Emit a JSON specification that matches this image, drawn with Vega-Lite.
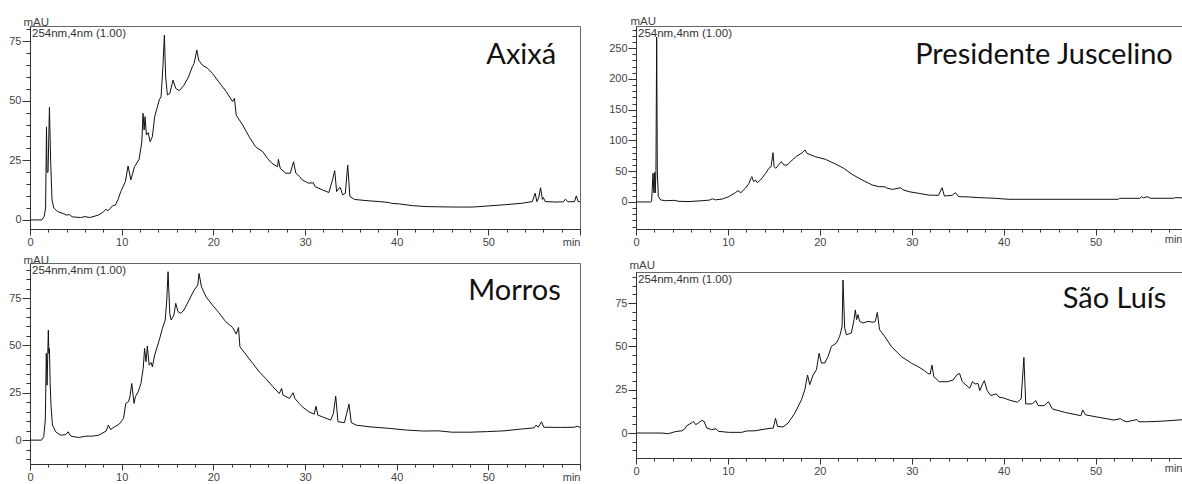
{
  "$schema": "https://vega.github.io/schema/vega-lite/v6.json",
  "background": "white",
  "padding": {"left": 8, "top": 14, "right": 0, "bottom": 0},
  "config": {
    "view": {"stroke": "#666", "strokeWidth": 1},
    "axis": {"labelFont": "Liberation Sans", "labelFontSize": 11, "labelColor": "#444", "domainColor": "#333", "tickColor": "#333", "grid": false, "titleFont": "Liberation Sans", "titleFontSize": 11.5, "titleFontWeight": "normal", "titleColor": "#444", "labelOverlap": false, "labelFlush": false}
  },
  "datasets": {
    "axixa": [
      {"t":0,"v":0},{"t":1.3,"v":0},{"t":1.55,"v":1.5},{"t":1.7,"v":5},{"t":1.8,"v":39},{"t":1.86,"v":20},{"t":1.97,"v":20},{"t":2.12,"v":47.2},{"t":2.25,"v":25},{"t":2.4,"v":8.4},{"t":2.6,"v":5},{"t":3.0,"v":3.5},{"t":3.6,"v":2.7},{"t":4.0,"v":2.0},{"t":4.3,"v":2.3},{"t":4.6,"v":1.3},{"t":5.5,"v":1.0},{"t":6.0,"v":1.4},{"t":6.5,"v":1.0},{"t":7.0,"v":1.5},{"t":7.5,"v":2.1},{"t":8.0,"v":3.4},{"t":8.3,"v":4.5},{"t":8.5,"v":3.8},{"t":9.0,"v":5.9},{"t":9.3,"v":6.2},{"t":9.6,"v":8.5},{"t":9.9,"v":11.9},{"t":10.4,"v":16},{"t":10.7,"v":22.6},{"t":11.0,"v":16.8},{"t":11.4,"v":22.3},{"t":11.9,"v":25.4},{"t":12.2,"v":32.8},{"t":12.33,"v":44.7},{"t":12.45,"v":37.7},{"t":12.55,"v":43.3},{"t":12.7,"v":35.6},{"t":12.9,"v":36.6},{"t":13.1,"v":32.8},{"t":13.35,"v":34.9},{"t":13.6,"v":43.3},{"t":14.1,"v":50.3},{"t":14.3,"v":51.7},{"t":14.5,"v":64.2},{"t":14.66,"v":77.5},{"t":14.8,"v":60},{"t":14.99,"v":52.4},{"t":15.25,"v":53},{"t":15.6,"v":58.6},{"t":15.9,"v":55.1},{"t":16.3,"v":54.2},{"t":16.8,"v":56.5},{"t":17.3,"v":60},{"t":17.7,"v":64.2},{"t":17.9,"v":65.6},{"t":18.2,"v":71.2},{"t":18.4,"v":67},{"t":18.8,"v":64.9},{"t":19.4,"v":63.5},{"t":19.9,"v":61.4},{"t":20.6,"v":57.9},{"t":21.4,"v":53.8},{"t":22.1,"v":49.6},{"t":22.3,"v":51},{"t":22.5,"v":43.9},{"t":23.2,"v":39.8},{"t":23.9,"v":34.9},{"t":24.6,"v":30.7},{"t":25.4,"v":28.6},{"t":25.9,"v":25.8},{"t":26.4,"v":23.7},{"t":27.0,"v":22.3},{"t":27.1,"v":25.4},{"t":27.3,"v":21.6},{"t":27.9,"v":19.6},{"t":28.4,"v":19.6},{"t":28.75,"v":24.4},{"t":29.0,"v":19.6},{"t":29.4,"v":18.2},{"t":29.7,"v":16.8},{"t":30.4,"v":15.4},{"t":30.9,"v":15.6},{"t":31.1,"v":14},{"t":31.9,"v":12.6},{"t":32.6,"v":11.5},{"t":33.0,"v":16.8},{"t":33.24,"v":20.7},{"t":33.45,"v":11.9},{"t":33.7,"v":13.3},{"t":33.85,"v":13.6},{"t":34.1,"v":10.5},{"t":34.4,"v":11.2},{"t":34.66,"v":23},{"t":34.9,"v":9.8},{"t":35.4,"v":8.6},{"t":35.9,"v":8.4},{"t":37.0,"v":8},{"t":38.1,"v":7.7},{"t":39.2,"v":7.3},{"t":39.4,"v":7.0},{"t":40.3,"v":6.7},{"t":41.7,"v":6.0},{"t":43.2,"v":5.6},{"t":44.7,"v":5.5},{"t":46.5,"v":5.4},{"t":48.3,"v":5.4},{"t":50.1,"v":5.9},{"t":51.9,"v":6.4},{"t":53.7,"v":7.0},{"t":54.8,"v":7.7},{"t":55.1,"v":11.2},{"t":55.3,"v":7.7},{"t":55.5,"v":9.4},{"t":55.7,"v":13.5},{"t":55.9,"v":8.6},{"t":56.0,"v":9.4},{"t":56.2,"v":7.7},{"t":57.4,"v":7.5},{"t":58.2,"v":7.6},{"t":58.4,"v":8.7},{"t":58.7,"v":7.6},{"t":59.4,"v":7.7},{"t":59.6,"v":10.1},{"t":59.8,"v":7.7},{"t":60,"v":7.7}
    ],
    "morros": [
      {"t":0,"v":0},{"t":1.25,"v":0},{"t":1.5,"v":1.8},{"t":1.67,"v":10.6},{"t":1.78,"v":45.8},{"t":1.86,"v":29},{"t":2.0,"v":58.1},{"t":2.06,"v":45.8},{"t":2.12,"v":48.4},{"t":2.2,"v":29.9},{"t":2.3,"v":17.6},{"t":2.45,"v":7.9},{"t":2.8,"v":4.4},{"t":3.35,"v":2.6},{"t":3.9,"v":2.9},{"t":4.15,"v":4.4},{"t":4.45,"v":2.1},{"t":5.3,"v":1.4},{"t":6.1,"v":2.1},{"t":6.8,"v":2.1},{"t":7.5,"v":2.6},{"t":8.3,"v":4.8},{"t":8.55,"v":7.9},{"t":8.8,"v":5.6},{"t":9.2,"v":7},{"t":9.7,"v":8.3},{"t":10.2,"v":11.4},{"t":10.45,"v":19.4},{"t":10.75,"v":20.3},{"t":10.9,"v":22.9},{"t":11.1,"v":29.9},{"t":11.35,"v":19.4},{"t":11.5,"v":22.9},{"t":11.8,"v":25.5},{"t":12.1,"v":29.9},{"t":12.35,"v":37.9},{"t":12.5,"v":48.4},{"t":12.65,"v":41.4},{"t":12.8,"v":49.7},{"t":13.0,"v":39.6},{"t":13.2,"v":41},{"t":13.35,"v":38.7},{"t":13.6,"v":44.9},{"t":14.1,"v":52.8},{"t":14.45,"v":59},{"t":14.75,"v":63.4},{"t":14.92,"v":73.9},{"t":15.06,"v":88.9},{"t":15.25,"v":66.9},{"t":15.4,"v":63.4},{"t":15.7,"v":66},{"t":15.9,"v":72.2},{"t":16.15,"v":67.8},{"t":16.45,"v":66.9},{"t":16.8,"v":68.7},{"t":17.35,"v":73.9},{"t":17.9,"v":79.2},{"t":18.3,"v":81.8},{"t":18.44,"v":88},{"t":18.7,"v":81},{"t":19.2,"v":75.7},{"t":19.9,"v":71.3},{"t":20.6,"v":67.3},{"t":21.35,"v":62.5},{"t":22.1,"v":59.5},{"t":22.5,"v":56},{"t":22.75,"v":59.5},{"t":22.9,"v":49.3},{"t":23.6,"v":44.9},{"t":24.3,"v":40.5},{"t":25.0,"v":36.1},{"t":25.7,"v":32.6},{"t":26.5,"v":28.2},{"t":27.2,"v":24.6},{"t":27.45,"v":27.3},{"t":27.6,"v":23.8},{"t":28.3,"v":22},{"t":28.7,"v":25},{"t":28.9,"v":22},{"t":29.35,"v":19.4},{"t":29.7,"v":17.6},{"t":30.4,"v":15},{"t":31.0,"v":13.7},{"t":31.2,"v":17.9},{"t":31.4,"v":13.2},{"t":31.9,"v":12.3},{"t":32.8,"v":10.6},{"t":33.1,"v":14.1},{"t":33.35,"v":23.2},{"t":33.6,"v":9.7},{"t":34.3,"v":9.2},{"t":34.55,"v":14.1},{"t":34.8,"v":19},{"t":35.05,"v":9.2},{"t":35.6,"v":7.9},{"t":37.1,"v":7},{"t":39.2,"v":6.2},{"t":41.1,"v":5.3},{"t":42.9,"v":4.8},{"t":44.6,"v":4.9},{"t":46.0,"v":4.2},{"t":48.0,"v":4.2},{"t":49.9,"v":4.5},{"t":51.7,"v":4.9},{"t":53.5,"v":5.8},{"t":55.0,"v":6.5},{"t":55.2,"v":7.9},{"t":55.45,"v":6.8},{"t":55.8,"v":9.7},{"t":56.05,"v":6.8},{"t":57.9,"v":6.7},{"t":59.4,"v":6.8},{"t":59.7,"v":7.4},{"t":60,"v":6.7}
    ],
    "pj": [
      {"t":0,"v":0},{"t":1.6,"v":0},{"t":1.7,"v":1},{"t":1.85,"v":46.6},{"t":1.95,"v":14.6},{"t":2.03,"v":48},{"t":2.1,"v":15},{"t":2.17,"v":51},{"t":2.25,"v":268},{"t":2.32,"v":49.6},{"t":2.43,"v":8.7},{"t":2.68,"v":3.2},{"t":3.22,"v":2},{"t":4.13,"v":2.6},{"t":4.67,"v":1},{"t":5.76,"v":0.6},{"t":7.21,"v":2},{"t":8.0,"v":3},{"t":8.3,"v":5.1},{"t":8.5,"v":4.2},{"t":8.66,"v":3.4},{"t":9.38,"v":4.6},{"t":10.1,"v":8.7},{"t":10.8,"v":15},{"t":11.1,"v":18.3},{"t":11.4,"v":15},{"t":11.9,"v":22.2},{"t":12.3,"v":30.3},{"t":12.5,"v":38.4},{"t":12.6,"v":41.1},{"t":12.8,"v":33},{"t":13.0,"v":35.7},{"t":13.2,"v":31.4},{"t":13.55,"v":35.7},{"t":14.1,"v":46.5},{"t":14.46,"v":54.6},{"t":14.7,"v":57.3},{"t":14.9,"v":80},{"t":15.03,"v":57.3},{"t":15.2,"v":54.6},{"t":15.5,"v":60},{"t":15.8,"v":65.4},{"t":16.1,"v":60},{"t":16.45,"v":60},{"t":17.0,"v":68.2},{"t":17.5,"v":74.7},{"t":18.1,"v":80},{"t":18.4,"v":84.4},{"t":18.6,"v":79},{"t":19.5,"v":73.6},{"t":20.6,"v":69.3},{"t":21.7,"v":61.7},{"t":22.6,"v":54.6},{"t":23.5,"v":44.9},{"t":24.6,"v":35.7},{"t":25.7,"v":27.6},{"t":26.4,"v":24.9},{"t":27.1,"v":24.5},{"t":27.3,"v":22.4},{"t":27.9,"v":20.4},{"t":28.8,"v":23.1},{"t":29.0,"v":20},{"t":29.7,"v":16.6},{"t":30.8,"v":13.9},{"t":31.8,"v":11.2},{"t":32.9,"v":10.7},{"t":33.3,"v":23.1},{"t":33.55,"v":9.6},{"t":34.4,"v":10.7},{"t":34.75,"v":15},{"t":35.1,"v":8.6},{"t":36.2,"v":8.1},{"t":37.3,"v":7.0},{"t":39.1,"v":5.9},{"t":40.5,"v":4.3},{"t":45.7,"v":4.3},{"t":52.5,"v":4.3},{"t":52.6,"v":5.9},{"t":54.8,"v":5.9},{"t":55.0,"v":8.6},{"t":55.2,"v":6.5},{"t":55.6,"v":8.6},{"t":56.0,"v":5.9},{"t":58.5,"v":6.0},{"t":58.7,"v":7.0},{"t":59.5,"v":6.5}
    ],
    "sl": [
      {"t":0,"v":0},{"t":2.82,"v":0},{"t":3.5,"v":-0.4},{"t":4.27,"v":0.8},{"t":4.99,"v":1.3},{"t":5.28,"v":2.2},{"t":5.53,"v":4.2},{"t":6.07,"v":5.9},{"t":6.25,"v":6.7},{"t":6.5,"v":4.8},{"t":6.8,"v":5.9},{"t":7.16,"v":7.3},{"t":7.41,"v":6.7},{"t":7.7,"v":2.9},{"t":8.24,"v":1.9},{"t":8.68,"v":2.5},{"t":8.97,"v":1},{"t":10.05,"v":0.4},{"t":11.5,"v":0.4},{"t":12.04,"v":1.2},{"t":12.94,"v":1.3},{"t":14.03,"v":2.3},{"t":14.93,"v":2.9},{"t":15.18,"v":8.5},{"t":15.4,"v":3.8},{"t":16.0,"v":3.5},{"t":16.56,"v":5.8},{"t":17.28,"v":11.5},{"t":18.0,"v":19.2},{"t":18.37,"v":25},{"t":18.66,"v":33.5},{"t":18.9,"v":27.9},{"t":19.27,"v":33.5},{"t":19.63,"v":36.5},{"t":19.92,"v":46},{"t":20.17,"v":40.4},{"t":20.54,"v":40.4},{"t":20.9,"v":44.2},{"t":21.26,"v":50},{"t":21.8,"v":51.9},{"t":22.16,"v":55.8},{"t":22.42,"v":61.5},{"t":22.52,"v":88.3},{"t":22.7,"v":60.6},{"t":22.89,"v":56.7},{"t":23.43,"v":57.7},{"t":23.72,"v":65.4},{"t":23.86,"v":71},{"t":24.0,"v":65.4},{"t":24.15,"v":68.3},{"t":24.33,"v":64.4},{"t":24.69,"v":63.5},{"t":25.23,"v":64.4},{"t":25.78,"v":63.9},{"t":26.03,"v":64.4},{"t":26.25,"v":69.6},{"t":26.5,"v":59.6},{"t":27.04,"v":55.8},{"t":27.8,"v":49.8},{"t":28.9,"v":44},{"t":30.0,"v":40.2},{"t":30.7,"v":38.3},{"t":31.4,"v":35.9},{"t":31.75,"v":34.4},{"t":32.0,"v":34},{"t":32.2,"v":39.2},{"t":32.4,"v":32.5},{"t":33.0,"v":29.6},{"t":33.9,"v":29.6},{"t":34.5,"v":30.6},{"t":34.9,"v":33.5},{"t":35.2,"v":34.4},{"t":35.5,"v":29.6},{"t":36.3,"v":25.8},{"t":36.6,"v":29.6},{"t":36.9,"v":28.3},{"t":37.2,"v":28.6},{"t":37.4,"v":24.5},{"t":37.7,"v":28.3},{"t":37.9,"v":30.2},{"t":38.2,"v":24.5},{"t":38.6,"v":21.6},{"t":39.2,"v":22.6},{"t":39.5,"v":20.7},{"t":40.0,"v":20.2},{"t":40.8,"v":18.7},{"t":41.5,"v":17.8},{"t":41.9,"v":19.7},{"t":42.2,"v":43.6},{"t":42.4,"v":16.8},{"t":43.1,"v":16.8},{"t":43.5,"v":18.7},{"t":43.75,"v":15.8},{"t":44.4,"v":15.8},{"t":44.87,"v":18.1},{"t":45.3,"v":13.9},{"t":46.6,"v":12},{"t":48.4,"v":10.0},{"t":48.6,"v":13.3},{"t":48.9,"v":10.5},{"t":50.2,"v":9.2},{"t":52.0,"v":7.5},{"t":52.7,"v":8.3},{"t":53.0,"v":7.2},{"t":53.4,"v":6.5},{"t":54.5,"v":7.8},{"t":54.7,"v":6.5},{"t":55.6,"v":6.5},{"t":57.4,"v":6.9},{"t":59.5,"v":7.7}
    ]
  },
  "spacing": 27,
  "hconcat": [
    {
      "spacing": 34,
      "bounds": "flush",
      "vconcat": [
        {
          "width": 550, "height": 203,
          "layer": [
            {
              "data": {"name": "axixa"},
              "mark": {"type": "line", "color": "#111", "strokeWidth": 1, "clip": true},
              "encoding": {
                "x": {"field": "t", "type": "quantitative", "scale": {"domain": [0, 60], "nice": false, "zero": false},
                  "axis": {"title": null, "format": "d", "tickCount": 200, "labelOverlap": false, "labelFlush": false, "labelBound": false, "values": [0,2,4,6,8,10,12,14,16,18,20,22,24,26,28,30,32,34,36,38,40,42,44,46,48,50,52,54,56,58,60], "labelExpr": "datum.value % 10 == 0 ? (datum.value >= 60 ? 'min' : datum.label) : ''", "tickSize": {"condition": {"test": "datum.value % 10 == 0", "value": 6}, "value": 3}, "labelAlign": {"condition": {"test": "datum.value >= 59", "value": "right"}, "value": "center"}, "labelPadding": 1}},
                "y": {"field": "v", "type": "quantitative", "scale": {"domain": [-3.8, 81.3], "nice": false, "zero": false},
                  "axis": {"title": "mAU", "format": "d", "tickCount": 200, "labelOverlap": false, "labelFlush": false, "labelBound": false, "titleAngle": 0, "titleAlign": "left", "titleBaseline": "alphabetic", "titleX": -7, "titleY": -1, "values": [0,5,10,15,20,25,30,35,40,45,50,55,60,65,70,75,80], "labelExpr": "datum.value % 25 == 0 ? datum.label : ''", "tickSize": {"condition": {"test": "datum.value % 25 == 0", "value": 8}, "value": 4}, "labelPadding": 1}}
              }
            },
            {
              "data": {"values": [{"label": "254nm,4nm (1.00)"}]},
              "mark": {"type": "text", "align": "left", "baseline": "alphabetic", "font": "Liberation Sans", "fontSize": 11.5, "color": "#333"},
              "encoding": {"x": {"datum": 0.22, "type": "quantitative"}, "y": {"datum": 76.7, "type": "quantitative"}, "text": {"field": "label"}}
            },
            {
              "data": {"values": [{"label": "Axixá"}]},
              "mark": {"type": "text", "align": "right", "baseline": "alphabetic", "font": "Lato", "fontSize": 29, "color": "#111"},
              "encoding": {"x": {"datum": 57.4, "type": "quantitative"}, "y": {"datum": 65.4, "type": "quantitative"}, "text": {"field": "label"}}
            }
          ]
        },
        {
          "width": 550, "height": 201,
          "layer": [
            {
              "data": {"name": "morros"},
              "mark": {"type": "line", "color": "#111", "strokeWidth": 1, "clip": true},
              "encoding": {
                "x": {"field": "t", "type": "quantitative", "scale": {"domain": [0, 60], "nice": false, "zero": false},
                  "axis": {"title": null, "format": "d", "tickCount": 200, "labelOverlap": false, "labelFlush": false, "labelBound": false, "values": [0,2,4,6,8,10,12,14,16,18,20,22,24,26,28,30,32,34,36,38,40,42,44,46,48,50,52,54,56,58,60], "labelExpr": "datum.value % 10 == 0 ? (datum.value >= 60 ? 'min' : datum.label) : ''", "tickSize": {"condition": {"test": "datum.value % 10 == 0", "value": 6}, "value": 3}, "labelAlign": {"condition": {"test": "datum.value >= 59", "value": "right"}, "value": "center"}, "labelPadding": 1}},
                "y": {"field": "v", "type": "quantitative", "scale": {"domain": [-12.6, 93.5], "nice": false, "zero": false},
                  "axis": {"title": "mAU", "format": "d", "tickCount": 200, "labelOverlap": false, "labelFlush": false, "labelBound": false, "titleAngle": 0, "titleAlign": "left", "titleBaseline": "alphabetic", "titleX": -7, "titleY": 0, "values": [-10,-5,0,5,10,15,20,25,30,35,40,45,50,55,60,65,70,75,80,85,90], "labelExpr": "datum.value % 25 == 0 ? datum.label : ''", "tickSize": {"condition": {"test": "datum.value % 25 == 0", "value": 8}, "value": 4}, "labelPadding": 1}}
              }
            },
            {
              "data": {"values": [{"label": "254nm,4nm (1.00)"}]},
              "mark": {"type": "text", "align": "left", "baseline": "alphabetic", "font": "Liberation Sans", "fontSize": 11.5, "color": "#333"},
              "encoding": {"x": {"datum": 0.22, "type": "quantitative"}, "y": {"datum": 87.7, "type": "quantitative"}, "text": {"field": "label"}}
            },
            {
              "data": {"values": [{"label": "Morros"}]},
              "mark": {"type": "text", "align": "right", "baseline": "alphabetic", "font": "Lato", "fontSize": 29, "color": "#111"},
              "encoding": {"x": {"datum": 57.9, "type": "quantitative"}, "y": {"datum": 74.0, "type": "quantitative"}, "text": {"field": "label"}}
            }
          ]
        }
      ]
    },
    {
      "spacing": 43,
      "bounds": "flush",
      "vconcat": [
        {
          "width": 546, "height": 203,
          "layer": [
            {
              "data": {"name": "pj"},
              "mark": {"type": "line", "color": "#111", "strokeWidth": 1, "clip": true},
              "encoding": {
                "x": {"field": "t", "type": "quantitative", "scale": {"domain": [0, 59.4], "nice": false, "zero": false},
                  "axis": {"title": null, "format": "d", "tickCount": 200, "labelOverlap": false, "labelFlush": false, "labelBound": false, "values": [0,2,4,6,8,10,12,14,16,18,20,22,24,26,28,30,32,34,36,38,40,42,44,46,48,50,52,54,56,58,59.4], "labelExpr": "datum.value > 59 ? 'min' : (datum.value % 10 == 0 ? datum.label : '')", "tickSize": {"condition": {"test": "datum.value % 10 == 0", "value": 6}, "value": 3}, "labelAlign": {"condition": {"test": "datum.value > 59", "value": "right"}, "value": "center"}, "labelPadding": 1}},
                "y": {"field": "v", "type": "quantitative", "scale": {"domain": [-44, 286], "nice": false, "zero": false},
                  "axis": {"title": "mAU", "format": "d", "tickCount": 200, "labelOverlap": false, "labelFlush": false, "labelBound": false, "titleAngle": 0, "titleAlign": "left", "titleBaseline": "alphabetic", "titleX": -6, "titleY": -2, "values": [-40,-30,-20,-10,0,10,20,30,40,50,60,70,80,90,100,110,120,130,140,150,160,170,180,190,200,210,220,230,240,250,260,270,280], "labelExpr": "datum.value % 50 == 0 ? datum.label : ''", "tickSize": {"condition": {"test": "datum.value % 50 == 0", "value": 8}, "value": 4}, "labelPadding": 1}}
              }
            },
            {
              "data": {"values": [{"label": "254nm,4nm (1.00)"}]},
              "mark": {"type": "text", "align": "left", "baseline": "alphabetic", "font": "Liberation Sans", "fontSize": 11.5, "color": "#333"},
              "encoding": {"x": {"datum": 0.22, "type": "quantitative"}, "y": {"datum": 268, "type": "quantitative"}, "text": {"field": "label"}}
            },
            {
              "data": {"values": [{"label": "Presidente Juscelino"}]},
              "mark": {"type": "text", "align": "right", "baseline": "alphabetic", "font": "Lato", "fontSize": 29, "color": "#111"},
              "encoding": {"x": {"datum": 58.4, "type": "quantitative"}, "y": {"datum": 224, "type": "quantitative"}, "text": {"field": "label"}}
            }
          ]
        },
        {
          "width": 546, "height": 186,
          "layer": [
            {
              "data": {"name": "sl"},
              "mark": {"type": "line", "color": "#111", "strokeWidth": 1, "clip": true},
              "encoding": {
                "x": {"field": "t", "type": "quantitative", "scale": {"domain": [0, 59.4], "nice": false, "zero": false},
                  "axis": {"title": null, "format": "d", "tickCount": 200, "labelOverlap": false, "labelFlush": false, "labelBound": false, "values": [0,2,4,6,8,10,12,14,16,18,20,22,24,26,28,30,32,34,36,38,40,42,44,46,48,50,52,54,56,58,59.4], "labelExpr": "datum.value > 59 ? 'min' : (datum.value % 10 == 0 ? datum.label : '')", "tickSize": {"condition": {"test": "datum.value % 10 == 0", "value": 6}, "value": 3}, "labelAlign": {"condition": {"test": "datum.value > 59", "value": "right"}, "value": "center"}, "labelPadding": 1}},
                "y": {"field": "v", "type": "quantitative", "scale": {"domain": [-14.4, 92.9], "nice": false, "zero": false},
                  "axis": {"title": "mAU", "format": "d", "tickCount": 200, "labelOverlap": false, "labelFlush": false, "labelBound": false, "titleAngle": 0, "titleAlign": "left", "titleBaseline": "alphabetic", "titleX": -7, "titleY": -4, "values": [-10,-5,0,5,10,15,20,25,30,35,40,45,50,55,60,65,70,75,80,85,90], "labelExpr": "datum.value % 25 == 0 ? datum.label : ''", "tickSize": {"condition": {"test": "datum.value % 25 == 0", "value": 8}, "value": 4}, "labelPadding": 1}}
              }
            },
            {
              "data": {"values": [{"label": "254nm,4nm (1.00)"}]},
              "mark": {"type": "text", "align": "left", "baseline": "alphabetic", "font": "Liberation Sans", "fontSize": 11.5, "color": "#333"},
              "encoding": {"x": {"datum": 0.22, "type": "quantitative"}, "y": {"datum": 86.5, "type": "quantitative"}, "text": {"field": "label"}}
            },
            {
              "data": {"values": [{"label": "São Luís"}]},
              "mark": {"type": "text", "align": "right", "baseline": "alphabetic", "font": "Lato", "fontSize": 29, "color": "#111"},
              "encoding": {"x": {"datum": 57.7, "type": "quantitative"}, "y": {"datum": 72.1, "type": "quantitative"}, "text": {"field": "label"}}
            }
          ]
        }
      ]
    }
  ]
}
